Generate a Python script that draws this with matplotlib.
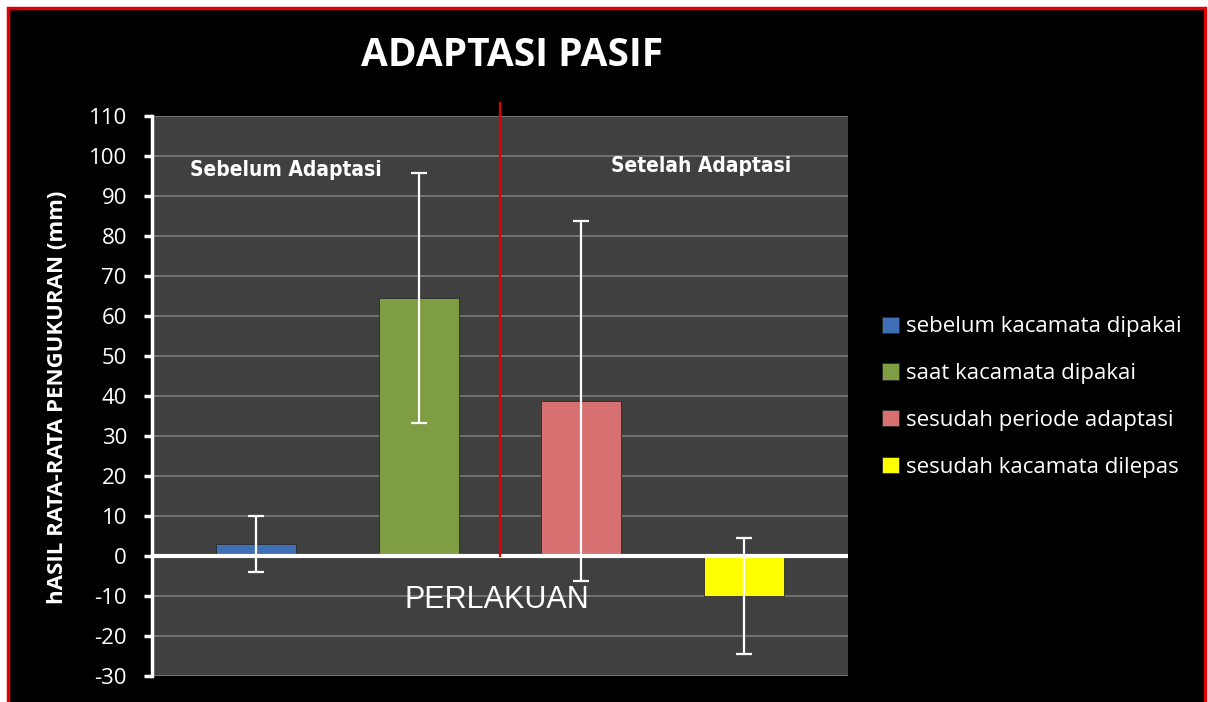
import matplotlib.pyplot as plt
from matplotlib.patches import Rectangle

# data
labels = ["sebelum kacamata dipakai", "saat kacamata dipakai",
          "sesudah periode adaptasi", "sesudah kacamata dilepas"]
means = [3, 64.5, 38.75, -10]
errors = [7, 31.25, 45, 14.5]
colors = ["#3f6fb5", "#7f9d42", "#d77171", "#ffff00"]
yticks = list(range(-30, 111, 10))

plt.rcParams["font.family"] = ["Open Sans", "DejaVu Sans"]
plt.rcParams["axes.unicode_minus"] = False

fig = plt.figure(figsize=(12.08, 7.02), dpi=100)
fig.patch.set_facecolor("white")

# red framed black panel
fig.patches.append(Rectangle((8 / 1208, -0.02), 1197 / 1208, 1 - 8 / 702 + 0.02,
                             transform=fig.transFigure, facecolor="black",
                             edgecolor="#e00000", linewidth=2.5, zorder=-10))

ax = fig.add_axes([152 / 1208, 1 - 676 / 702, 696 / 1208, 560 / 702])
ax.set_facecolor("#404040")

x = range(len(means))
ax.bar(x, means, width=0.49, color=colors, edgecolor="#2a2a2a",
       linewidth=0.6, label=labels, zorder=3)
ax.errorbar(x, means, yerr=errors, fmt="none", ecolor="white",
            elinewidth=1.6, capsize=6, capthick=1.6, zorder=4)

ax.set_xlim(-0.64, 3.64)
ax.set_ylim(-30, 110)
ax.set_yticks(yticks)
ax.set_xticks([])
ax.grid(axis="y", color="#7a7a7a", linewidth=1.2, zorder=0)
ax.axhline(0, color="white", linewidth=3, zorder=5)
ax.axvline(1.5, ymin=30 / 140, ymax=(113.3 + 30) / 140, color="#e00000",
           linewidth=1.6, clip_on=False, zorder=5)

for s in ["top", "right", "bottom"]:
    ax.spines[s].set_visible(False)
ax.spines["left"].set_color("white")
ax.spines["left"].set_linewidth(2.5)
ax.tick_params(axis="y", colors="white", labelsize=16, width=2.5, length=6,
               direction="out", pad=12)

ax.set_ylabel("hASIL RATA-RATA PENGUKURAN (mm)", color="white",
              fontsize=16, fontweight="bold")
ax.yaxis.set_label_coords(-(152 - 68) / 696, (676 - 397) / 560)

fig.text(512 / 1208, 1 - 56 / 702, "ADAPTASI PASIF", color="white",
         fontsize=28, fontweight="bold", ha="center", va="center")

cond = dict(color="white", fontsize=15, fontweight="bold",
            family="DejaVu Sans", fontstretch="condensed", va="center")
ax.text(-0.406, 96.5, "Sebelum Adaptasi", **cond)
ax.text(2.18, 97.5, "Setelah Adaptasi", **cond)

ax.text(1.48, -11, "PERLAKUAN", color="white", fontsize=22,
        family="Liberation Sans", ha="center", va="center", zorder=6)

ax.legend(loc="center left", bbox_to_anchor=(1.0, 0.498), frameon=False,
          fontsize=16, labelcolor="white", handlelength=0.75,
          handleheight=0.75, handletextpad=0.35, labelspacing=1.16,
          borderaxespad=1.13)

fig.savefig("out.png", dpi=100, facecolor=fig.get_facecolor())
